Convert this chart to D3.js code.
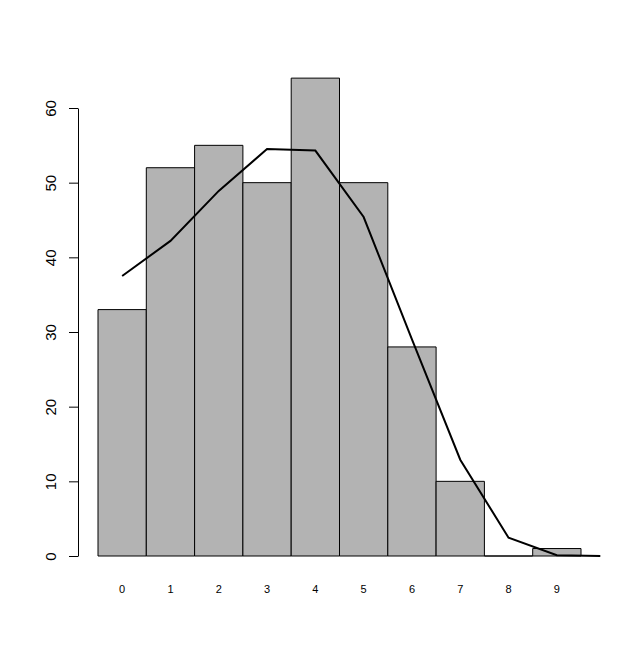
<!DOCTYPE html>
<html>
<head>
<meta charset="utf-8">
<script src="https://cdn.jsdelivr.net/npm/d3@7"></script>
<style>
  body { margin: 0; background: #fff; }
  svg { display: block; font-family: "Liberation Sans", Arial, sans-serif; }
</style>
</head>
<body>
<svg id="chart"></svg>
<script>
const width = 641;
const height = 655;

// bar categories and counts
const categories = ["0", "1", "2", "3", "4", "5", "6", "7", "8", "9"];
const counts = [33, 52, 55, 50, 64, 50, 28, 10, 0, 1];

// fitted curve, x in category units (bar centres at 0..9)
const curveX = [0, 1, 2, 3, 4, 5, 6, 7, 8, 9, 9.9];
const curveY = [37.5, 42.2, 48.9, 54.5, 54.3, 45.4, 29.0, 12.9, 2.45, 0.1, 0];

const yTicks = [0, 10, 20, 30, 40, 50, 60];

const svg = d3.select("#chart").attr("width", width).attr("height", height);

const x = d3.scaleBand().domain(d3.range(categories.length)).range([98, 581]).padding(0);
const xl = d3.scaleLinear().domain([-0.5, 9.5]).range([98, 581]);
const y = d3.scaleLinear().domain([0, 60]).range([556, 108]);

// bars as closed paths so an empty bar still shows its outline
svg.append("g")
  .selectAll("path")
  .data(counts)
  .join("path")
  .attr("d", (d, i) => {
    const x0 = x(i), x1 = x(i) + x.bandwidth();
    return `M${x0},${y(0)}V${y(d)}H${x1}V${y(0)}Z`;
  })
  .attr("fill", "#b3b3b3")
  .attr("stroke", "#000")
  .attr("stroke-width", 1);

// category labels under the bars
svg.append("g")
  .selectAll("text")
  .data(categories)
  .join("text")
  .attr("x", (d, i) => x(i) + x.bandwidth() / 2)
  .attr("y", 593)
  .attr("text-anchor", "middle")
  .attr("font-size", 11)
  .attr("fill", "#000")
  .text((d) => d);

// y axis, R style with rotated labels
const yAxis = svg.append("g")
  .attr("transform", "translate(78,0)")
  .call(d3.axisLeft(y).tickValues(yTicks).tickSize(9).tickSizeOuter(0));

yAxis.select(".domain").attr("stroke", "#000");
yAxis.selectAll(".tick line").attr("stroke", "#000");
yAxis.selectAll(".tick text")
  .attr("x", 0)
  .attr("dy", 0)
  .attr("text-anchor", "middle")
  .attr("transform", "translate(-22,0) rotate(-90)")
  .attr("font-size", 15)
  .attr("font-family", "Liberation Sans, Arial, sans-serif")
  .attr("fill", "#000");

// curve
const line = d3.line()
  .x((d) => xl(d[0]))
  .y((d) => y(d[1]));

svg.append("path")
  .datum(curveX.map((v, i) => [v, curveY[i]]))
  .attr("d", line)
  .attr("fill", "none")
  .attr("stroke", "#000")
  .attr("stroke-width", 2);
</script>
</body>
</html>
